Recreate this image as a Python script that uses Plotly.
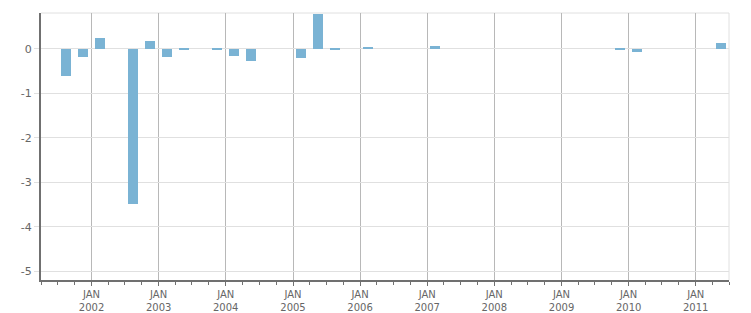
import pandas as pd
import plotly.graph_objects as go

quarters = ["2001Q3", "2001Q4", "2002Q1", "2002Q2", "2002Q3", "2002Q4",
            "2003Q1", "2003Q2", "2003Q3", "2003Q4", "2004Q1", "2004Q2",
            "2004Q3", "2004Q4", "2005Q1", "2005Q2", "2005Q3", "2005Q4",
            "2006Q1", "2006Q2", "2006Q3", "2006Q4", "2007Q1", "2007Q2",
            "2007Q3", "2007Q4", "2008Q1", "2008Q2", "2008Q3", "2008Q4",
            "2009Q1", "2009Q2", "2009Q3", "2009Q4", "2010Q1", "2010Q2",
            "2010Q3", "2010Q4", "2011Q1", "2011Q2"]
values = [-0.60, -0.19, 0.25, 0.0, -3.48, 0.18,
          -0.17, -0.02, 0.0, -0.02, -0.15, -0.27,
          0.0, 0.0, -0.20, 0.79, -0.02, 0.0,
          0.03, 0.0, 0.0, 0.0, 0.07, 0.0,
          0.0, 0.0, 0.0, 0.0, 0.0, 0.0,
          0.0, 0.0, 0.0, -0.02, -0.07, 0.0,
          0.0, 0.0, 0.0, 0.14]
years = list(range(2002, 2012))
y_ticks = [0, -1, -2, -3, -4, -5]
y_labels = ["0", "-1", "-2", "-3", "-4", "-5"]

periods = [pd.Period(q, freq="Q") for q in quarters]
mids = [p.start_time + (p.end_time - p.start_time) / 2 for p in periods]
qlen_ms = 91.3 * 86400000

fig = go.Figure()
fig.add_trace(go.Bar(
    x=mids, y=values,
    width=[qlen_ms * 0.6] * len(mids),
    marker=dict(color="#7ab3d4", line=dict(width=0)),
    hoverinfo="x+y",
))

tickvals = [pd.Timestamp(f"{y}-01-01") for y in years]
ticktext = [f"JAN<br>{y}" for y in years]

fig.update_layout(
    width=751, height=313,
    margin=dict(l=41, r=22, t=13, b=33),
    paper_bgcolor="white", plot_bgcolor="white",
    showlegend=False,
    bargap=0,
    font=dict(family="DejaVu Sans", size=10, color="#666666"),
    xaxis=dict(
        type="date", automargin=False,
        range=[pd.Timestamp("2001-04-01"), pd.Timestamp("2011-07-01")],
        tickmode="array", tickvals=tickvals, ticktext=ticktext,
        showgrid=True, gridcolor="#b8b8b8", gridwidth=1,
        showline=True, linecolor="#707070", linewidth=2,
        ticks="outside", ticklen=4, tickcolor="#707070", tickwidth=1,
        tickfont=dict(size=10, color="#666666"),
        minor=dict(dtick="M3", tick0="2001-01-01", ticks="outside",
                   ticklen=3, tickcolor="#707070", showgrid=False),
        zeroline=False,
    ),
    yaxis=dict(
        range=[-5.2, 0.81], automargin=False,
        tickmode="array", tickvals=y_ticks, ticktext=y_labels,
        showgrid=True, gridcolor="#e0e0e0", gridwidth=1,
        showline=True, linecolor="#707070", linewidth=2,
        ticks="outside", ticklen=5, tickcolor="#e0e0e0",
        tickfont=dict(size=11, color="#666666"),
        zeroline=False,
    ),
    shapes=[
        dict(type="line", xref="paper", yref="paper", x0=0, x1=1, y0=1, y1=1,
             line=dict(color="#e0e0e0", width=1), layer="below"),
        dict(type="line", xref="paper", yref="paper", x0=1, x1=1, y0=0, y1=1,
             line=dict(color="#e0e0e0", width=1), layer="below"),
    ],
)

fig.write_html("out.html")
